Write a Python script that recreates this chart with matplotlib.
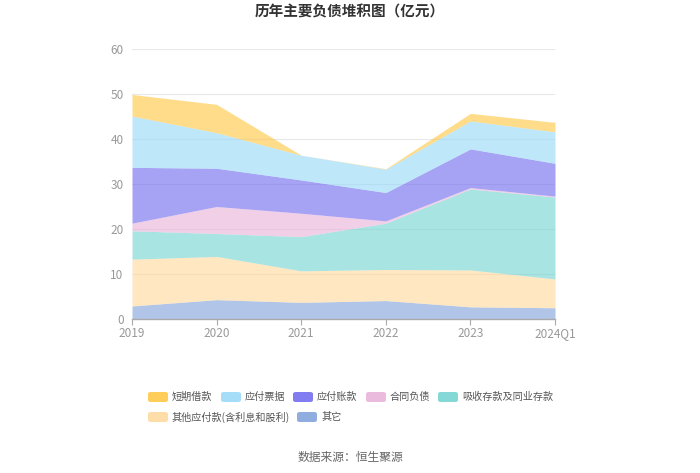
import matplotlib
matplotlib.use("Agg")
import matplotlib.pyplot as plt
from matplotlib.patches import FancyBboxPatch
import numpy as np

plt.rcParams['font.family'] = ['Noto Sans CJK SC', 'DejaVu Sans']

categories = ["2019", "2020", "2021", "2022", "2023", "2024Q1"]
series_names = ["短期借款", "应付票据", "应付账款", "合同负债", "吸收存款及同业存款",
                "其他应付款(含利息和股利)", "其它"]
short_loans = [4.8, 6.3, 0.0, 0.1, 1.7, 2.1]
notes_payable = [11.4, 7.9, 5.5, 5.2, 6.2, 7.0]
accounts_payable = [12.4, 8.5, 7.4, 6.3, 8.6, 7.3]
contract_liab = [1.7, 6.0, 5.2, 0.5, 0.3, 0.2]
deposits = [6.3, 5.1, 7.6, 10.3, 18.0, 18.2]
other_payables = [10.4, 9.6, 7.0, 6.9, 8.2, 6.4]
others = [2.9, 4.3, 3.7, 4.1, 2.7, 2.5]
yticks = [0, 10, 20, 30, 40, 50, 60]

colors = {
    "短期借款": "#FFC53D",
    "应付票据": "#95D8F8",
    "应付账款": "#6B66EE",
    "合同负债": "#E8B0D8",
    "吸收存款及同业存款": "#6FD3CF",
    "其他应付款(含利息和股利)": "#FFD799",
    "其它": "#7D9FDA",
}

fig = plt.figure(figsize=(7, 4.73), dpi=100)
ax = fig.add_axes([132/700, 1-319/473, (555-132)/700, (319-49)/473])

x = np.arange(len(categories))
stack_order = [others, other_payables, deposits, contract_liab, accounts_payable, notes_payable, short_loans]
stack_names = ["其它", "其他应付款(含利息和股利)", "吸收存款及同业存款", "合同负债", "应付账款", "应付票据", "短期借款"]
base = np.zeros(len(categories))
for vals, name in zip(stack_order, stack_names):
    top = base + np.array(vals)
    ax.fill_between(x, base, top, color=colors[name], alpha=0.6, linewidth=0)
    base = top

ax.set_xlim(0, len(categories)-1)
ax.set_ylim(0, 60)
ax.set_yticks(yticks)
ax.set_yticklabels([str(v) for v in yticks])
ax.set_xticks(x)
ax.set_xticklabels(categories)
ax.tick_params(axis='y', length=0, labelsize=8.5, colors='#999999', pad=6)
ax.tick_params(axis='x', length=4, direction='out', labelsize=8.5, colors='#999999',
               pad=2, color='#AAAAAA')
for t in ax.get_xticklabels():
    t.set_color('#999999')
ax.grid(axis='y', color='#E8E8EC', linewidth=0.8)
ax.set_axisbelow(True)
for s in ['top', 'right', 'left']:
    ax.spines[s].set_visible(False)
ax.spines['bottom'].set_color('#AAAAAA')
ax.spines['bottom'].set_linewidth(1)

fig.text(0.5, 1-12/473, "历年主要负债堆积图（亿元）", ha='center', va='center',
         fontsize=10.5, fontweight='bold', color='#333333')
fig.text(0.5, 1-457/473, "数据来源：恒生聚源", ha='center', va='center',
         fontsize=8.5, color='#666666')

# legend, flow layout like the reference
legend_rows = [
    [("短期借款", 148), ("应付票据", 221), ("应付账款", 293), ("合同负债", 366), ("吸收存款及同业存款", 438)],
    [("其他应付款(含利息和股利)", 148), ("其它", 297)],
]
row_y = [397, 417]
W, H = 700, 473
for row, yy in zip(legend_rows, row_y):
    for name, xx in row:
        p = FancyBboxPatch(((xx)/W, (H-yy-5)/H), 20/W, 10/H,
                           boxstyle="round,pad=0,rounding_size=0.004",
                           transform=fig.transFigure, facecolor=colors[name],
                           edgecolor='none', alpha=0.85)
        fig.patches.append(p)
        fig.text((xx+24)/W, (H-yy)/H, name, ha='left', va='center',
                 fontsize=7.3, color='#555555')

fig.savefig("out.png", dpi=100)
